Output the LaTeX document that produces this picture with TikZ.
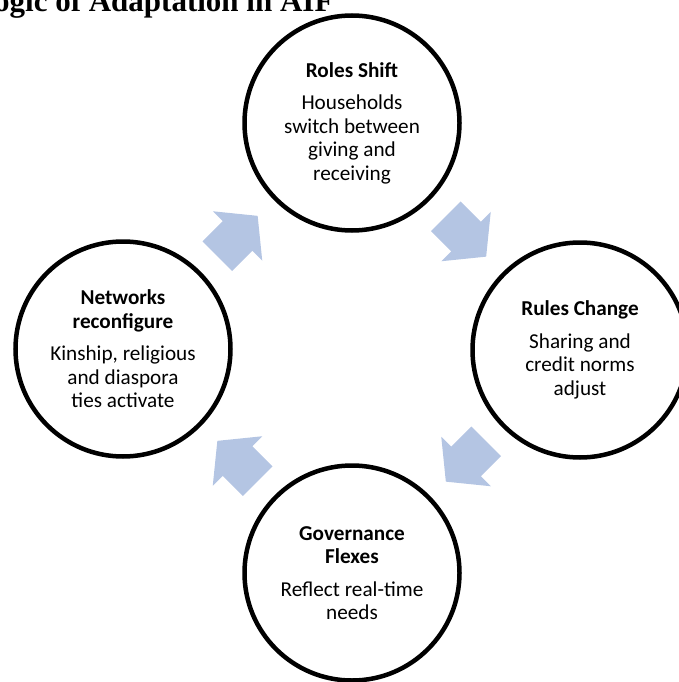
\documentclass[tikz,border=0pt]{standalone}
\usepackage{fontspec}
\setmainfont{Carlito}
\newfontfamily\headfont{Liberation Serif}
\usepackage{tikz}
\usetikzlibrary{calc}
\definecolor{arrowblue}{RGB}{180,197,227}
\tikzset{
  stage/.style={circle, draw=black, line width=4.5pt, minimum size=215pt,
    inner sep=0pt, align=center, font=\fontsize{21.2}{23.5}\selectfont},
  cyclearrow/.pic={
    \fill[arrowblue] (-28.5,-21) -- (0,-21) -- (0,-35) -- (28.5,0)
      -- (0,35) -- (0,21) -- (-28.5,21) -- cycle;
  },
}

\begin{document}
\begin{tikzpicture}[x=1pt, y=-1pt]
\useasboundingbox (0,0) rectangle (679,682);
\clip (0,0) rectangle (679,682);

\node[anchor=base east, font=\headfont\bfseries\fontsize{31}{31}\selectfont] (title) at (337,12) {Logic of Adaptation in AIF};

\node[stage] (roles) at (352,123) {\textbf{Roles Shift}\\[9pt]Households\\switch between\\giving and\\receiving};
\node[stage] (rules) at (580,350) {\textbf{Rules Change}\\[9pt]Sharing and\\credit norms\\adjust};
\node[stage] (gov) at (352,573) {\textbf{Governance}\\\textbf{Flexes}\\[9pt]Reflect real-time\\needs};
\node[stage] (networks) at (123,349) {\textbf{Networks}\\\textbf{reconfigure}\\[9pt]Kinship, religious\\and diaspora\\ties activate};

% block arrows half way between the stages
\path ($(roles)!0.5!(rules)$) pic[rotate=-45] {cyclearrow};
\path ($(rules)!0.5!(gov)$) pic[rotate=-135] {cyclearrow};
\path ($(gov)!0.5!(networks)$) pic[rotate=135] {cyclearrow};
\path ($(networks)!0.5!(roles)$) pic[rotate=45] {cyclearrow};
\end{tikzpicture}
\end{document}
